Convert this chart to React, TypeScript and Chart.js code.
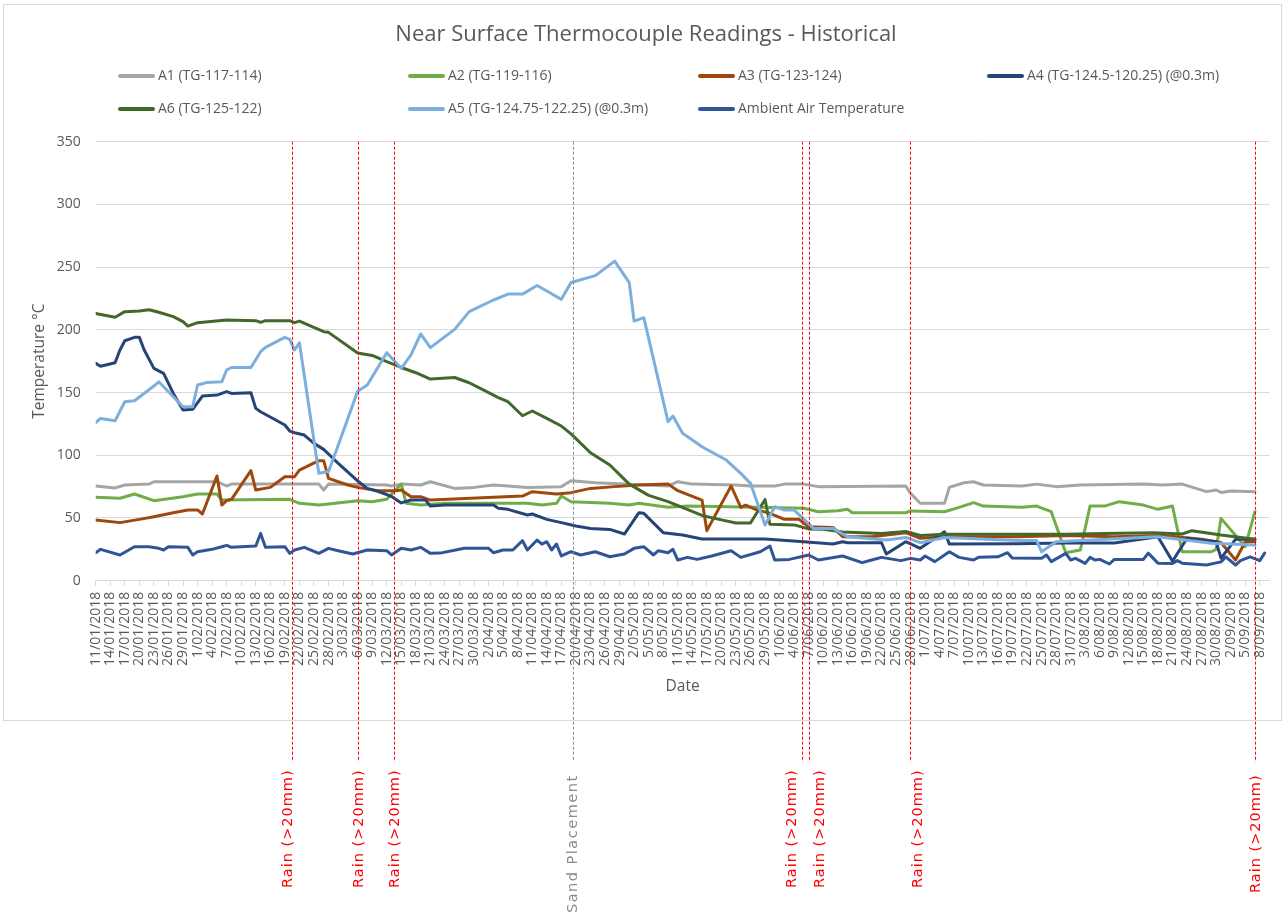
import React, { useEffect, useRef } from "react";
import { Chart, registerables } from "chart.js";

Chart.register(...registerables);

// ---------- canvas / layout constants ----------
const W = 1286;
const H = 915;
const FONT = '"Open Sans", "Noto Sans", sans-serif';
const TEXT_COLOR = "#595959";
const GRID_COLOR = "#d9d9d9";

// ---------- axis data ----------
const START_YEAR = 2018;
const START_MONTH = 0; // January
const START_DAY = 11; // 11/01/2018 = day 0
const AXIS_MAX_DAY = 242;
const TICK_STEP_DAYS = 3;
const TICK_COUNT = 81;
const yMin = 0;
const yMax = 350;
const yStep = 50;

const dayLabel = (d: number) => {
  const dt = new Date(START_YEAR, START_MONTH, START_DAY + d);
  return `${dt.getDate()}/${String(dt.getMonth() + 1).padStart(2, "0")}/${dt.getFullYear()}`;
};
const tickDays = Array.from({ length: TICK_COUNT }, (_, k) => k * TICK_STEP_DAYS);
const xTickLabels = tickDays.map(dayLabel);

// ---------- series (day offset from 11/01/2018, temperature °C) ----------
const seriesLabels = [
  "A1 (TG-117-114)",
  "A2 (TG-119-116)",
  "A3 (TG-123-124)",
  "A4 (TG-124.5-120.25) (@0.3m)",
  "A6 (TG-125-122)",
  "A5 (TG-124.75-122.25) (@0.3m)",
  "Ambient Air Temperature",
];
const seriesColors = ["#A5A5A5", "#70AD47", "#9E480E", "#264478", "#43682B", "#7CAFDD", "#2F5597"];

const a1Days = [0,4,6,11,12,25,27,28,46,47,48,60,61,63,67,69,74,78,82,85,89,96,98,103,118,120,123,132,135,140,142,146,149,167,168,170,175,176,179,181,183,191,194,198,203,216,220,224,229,231,232,234,239];
const a1Vals = [75.5,74,76.3,77,78.9,78.9,75.5,77,77,72.3,77,76.3,75.5,77,76.3,78.9,73.6,74.4,76.3,75.5,74.4,75,79.7,78.1,75.5,78.9,77,76.3,75.5,75.5,77,77,75,75.5,69.6,61.7,61.7,74.4,78.1,78.9,76.3,75.5,77,75,76.3,77,76.3,77,71,72.3,70.4,71.5,71];

const a2Days = [0,5,8,12,18,21,25,26,40,42,46,48,54,57,60,63,64,67,72,89,92,95,96,98,106,110,112,118,122,136,146,149,153,155,156,167,168,175,178,181,183,191,194,197,200,203,205,208,211,216,219,222,224,230,231,232,237,239];
const a2Vals = [66.5,65.7,69.1,63.8,67,69.1,69.1,64.3,64.9,61.7,60.3,61.1,63.8,63,64.9,77.1,61.7,60.3,61.7,61.7,60.3,61.7,67.5,63,61.7,60.3,61.7,58.5,59.5,58.5,57.7,55,55.8,56.9,54.2,54.2,55.6,55,58.5,62.2,59.5,58.5,59.5,55,22.3,24.5,59.5,59.5,63,60.3,56.9,59.5,23.1,23.1,25,49.7,27.1,55];

const a3Days = [0,5,9,12,16,19,21,22,25,26,27,28,32,33,36,39,41,42,46,47,48,52,54,58,62,63,65,67,69,88,90,95,98,102,107,112,118,120,125,126,131,133,134,136,139,142,145,147,152,154,160,167,170,175,190,200,210,220,228,232,235,237,239];
const a3Vals = [48.4,46.3,48.9,51,54.2,56.4,56.4,53.2,83.5,60.3,63.8,64.9,87.7,72.3,74.4,82.9,82.9,88.2,95.7,95.7,81.6,76.3,74.4,71.8,71.8,72.3,67,67,64.3,67.5,71,69.1,70.2,73.6,75,76.3,77.1,71.8,64.3,39.9,75.5,58.5,60.3,56.9,53.7,48.9,48.9,43,42.5,35.1,35.1,38.3,33.8,35.1,35,36,35,36,33,30.5,16.5,31,31];

const a4Days = [0,1,4,5,6,8,9,10,12,14,16,18,20,22,25,27,28,32,33,34,39,40,41,43,45,47,48,50,54,56,58,61,63,65,68,69,72,82,83,85,89,90,93,96,99,102,106,109,112,113,117,121,125,138,146,152,154,155,162,163,167,170,175,176,190,200,210,219,222,225,231,232,235,239];
const a4Vals = [173.3,171,173.8,183.9,191.3,194,194,183.9,169.3,165.3,149.3,136,136.6,147.2,148,150.7,149.3,149.9,137.4,134.7,124.1,119.3,118,116.1,109.5,104.7,101,93.5,79.5,73.6,71.5,67.2,62,64.3,64.3,59.5,60.3,60.3,57.7,56.9,52.4,53.2,48.9,46.3,43.6,41.7,40.9,37.2,54.2,53.7,38.3,36.4,33.2,33.2,31.1,29.2,31.1,30.3,30.3,21.3,31.1,25.8,39,29.2,29.5,30,30,35,15.5,33.8,31,18,33,33];

const a6Days = [0,4,6,9,11,13,16,18,19,21,27,33,34,35,40,41,42,47,48,54,57,60,63,66,69,74,77,80,83,85,88,90,93,96,98,102,106,110,114,118,125,129,132,135,138,139,144,147,150,154,162,167,170,175,190,200,208,218,224,226,232,239];
const a6Vals = [213,210,214.5,215,216,214,210.5,206.5,203,205.7,207.8,207.3,206,207.3,207.3,205.7,207,198.5,198,181.5,179.6,174.6,170,165.8,160.8,162,157.8,152,146,142.7,131.5,135.3,129.4,123.3,117,102,92.2,77,68,63,52,48.5,46,46,64.8,45,44.5,41.3,41,38.8,37.7,39.3,36,37,37,37,37.7,38.3,37.2,39.9,36.4,33];

const a5Days = [0,1,4,6,8,12,13,18,20,21,23,26,27,28,32,34,35,39,40,41,42,46,48,50,54,56,60,63,65,67,69,74,77,82,85,88,91,93,96,98,103,107,110,111,113,118,119,121,125,130,133,135,138,140,142,144,148,152,155,163,167,170,175,190,194,195,198,219,230,239];
const a5Vals = [126,129.4,127.5,142.7,143.5,155.2,158.6,138.7,138.7,156,158.1,158.6,168,170,170,182.6,186,194,192.4,183.9,189.7,85.6,87,108,151,156,181.8,169.3,180,196.7,185.8,200.4,214.5,223.8,228.5,228.5,235.4,231,224.3,237.8,243.2,254.8,237.6,207,209.7,126.8,131.3,117.5,106.8,96.2,85.6,77.6,44.4,59,56.3,56.3,41.7,41.7,35,32.4,34.5,30.3,34.5,32,32,23.1,31.1,35.1,29.8,28.4];

const ambDays = [0,1,5,8,11,13,14,15,19,20,21,24,26,27,28,33,34,35,39,40,41,43,46,48,50,53,56,60,61,63,65,67,69,71,75,76,81,82,84,86,88,89,91,92,93,94,95,96,98,100,103,106,109,111,113,115,116,118,119,120,122,124,127,131,133,137,139,140,143,147,149,154,158,160,162,166,168,170,171,173,176,178,181,182,186,188,189,195,196,197,200,201,202,204,205,206,207,209,210,216,217,219,222,223,224,229,232,233,235,236,238,240,241];
const ambVals = [22.3,25,20.5,27.1,27.1,25.8,24.5,27.1,26.6,20.5,23.1,25,27.1,28.2,26.6,27.6,37.7,26.6,27.1,21.8,24.5,26.6,21.8,25.8,23.9,21.3,24.5,23.9,20.5,25.8,24.5,26.6,21.8,22,25,25.8,25.8,22.3,24.5,24.5,31.9,24.5,32.4,29.2,31.1,24.5,29.2,19.7,23.1,20.5,23.1,19.1,21.3,25.8,27.1,20.5,23.9,22.3,25,16.5,18.6,17,19.7,23.9,18.6,23.1,27.6,16.5,17,20.5,16.5,19.7,14.4,16.5,18.6,16,17.8,16.5,19.7,15.2,23.1,18.6,16.5,18.6,19,22.3,18,17.8,20.5,15.2,21.8,16.5,17.8,13.8,18.6,16.5,17,13.3,17,17,22,14,13.8,16,14,12.5,15,19,12.5,16,19,16,22];

const seriesDays = [a1Days, a2Days, a3Days, a4Days, a6Days, a5Days, ambDays];
const seriesVals = [a1Vals, a2Vals, a3Vals, a4Vals, a6Vals, a5Vals, ambVals];

// ---------- event markers (day offsets) ----------
const rainDays = [40.5, 54, 61.6, 145.7, 147, 167.9, 239.1];
const rainLabel = "Rain (>20mm)";
const sandDay = 98.5;
const sandLabel = "Sand Placement";

// ---------- marker label layout (pixels) ----------
const rainLabelDx = [-4, 1, 1, -10, 11, 8, 1];
const rainLabelBottom = [888, 888, 888, 888, 888, 888, 893];
const sandLabelBottom = 913;
const markerLineBottom = 762;

// ---------- legend layout (pixels) ----------
const legendRowY = [76, 109];
const legendTextX = [158, 448, 738, 1027];

const framePlugin = {
  id: "frame",
  beforeDraw(chart: any) {
    const ctx = chart.ctx;
    ctx.save();
    ctx.fillStyle = "#ffffff";
    ctx.fillRect(0, 0, chart.width, chart.height);
    ctx.strokeStyle = GRID_COLOR;
    ctx.lineWidth = 1;
    ctx.strokeRect(3.5, 4.5, 1278, 716);
    ctx.restore();
  },
};

const legendPlugin = {
  id: "gridLegend",
  afterDraw(chart: any) {
    const ctx = chart.ctx;
    ctx.save();
    ctx.font = `14px ${FONT}`;
    ctx.textBaseline = "middle";
    ctx.textAlign = "left";
    chart.data.datasets.forEach((ds: any, i: number) => {
      const row = i < 4 ? 0 : 1;
      const col = i < 4 ? i : i - 4;
      const y = legendRowY[row];
      const tx = legendTextX[col];
      ctx.strokeStyle = ds.borderColor;
      ctx.lineWidth = 4;
      ctx.lineCap = "round";
      ctx.beginPath();
      ctx.moveTo(tx - 38, y);
      ctx.lineTo(tx - 5, y);
      ctx.stroke();
      ctx.fillStyle = TEXT_COLOR;
      ctx.fillText(ds.label, tx, y);
    });
    ctx.restore();
  },
};

const markerPlugin = {
  id: "markers",
  afterDraw(chart: any) {
    const ctx = chart.ctx;
    const xs = chart.scales.x;
    const top = chart.chartArea.top;
    const drawMarker = (day: number, color: string, text: string, dx: number, bottom: number, spacing: string) => {
      const x = Math.round(xs.getPixelForValue(day)) + 0.5;
      ctx.save();
      ctx.strokeStyle = color;
      ctx.lineWidth = 1;
      ctx.setLineDash([3, 2]);
      ctx.beginPath();
      ctx.moveTo(x, top);
      ctx.lineTo(x, markerLineBottom);
      ctx.stroke();
      ctx.setLineDash([]);
      ctx.translate(x + dx, bottom);
      ctx.rotate(-Math.PI / 2);
      ctx.font = '14.5px "DejaVu Sans", sans-serif';
      (ctx as any).letterSpacing = spacing;
      ctx.fillStyle = color;
      ctx.textAlign = "left";
      ctx.textBaseline = "middle";
      ctx.fillText(text, 0, 0);
      ctx.restore();
    };
    drawMarker(sandDay, "#8c8c8c", sandLabel, 0, sandLabelBottom, "1.5px");
    rainDays.forEach((d, i) => drawMarker(d, "#ff0000", rainLabel, rainLabelDx[i], rainLabelBottom[i], "1px"));
  },
};

export default function App() {
  const ref = useRef<HTMLCanvasElement>(null);
  useEffect(() => {
    if (!ref.current) return;
    const datasets = seriesLabels.map((label, i) => ({
      label,
      data: seriesDays[i].map((d, j) => ({ x: d, y: seriesVals[i][j] })),
      borderColor: seriesColors[i],
      backgroundColor: seriesColors[i],
      borderWidth: 3,
      pointRadius: 0,
      pointHoverRadius: 0,
      tension: 0,
      fill: false,
      borderJoinStyle: "round",
      borderCapStyle: "round",
      order: seriesLabels.length - i,
    }));
    const chart = new Chart(ref.current, {
      type: "line",
      data: { datasets } as any,
      options: {
        animation: false,
        responsive: false,
        devicePixelRatio: 1,
        events: [],
        layout: { padding: { left: 22.5, right: 16.5, top: 0, bottom: 218.7 }, autoPadding: false } as any,
        plugins: {
          legend: { display: false },
          tooltip: { enabled: false },
          title: {
            display: true,
            text: "Near Surface Thermocouple Readings - Historical",
            color: TEXT_COLOR,
            font: { family: FONT, size: 22, weight: "normal" },
            padding: { top: 21.8, bottom: 93.5 },
          },
        },
        scales: {
          x: {
            type: "linear",
            min: 0,
            max: AXIS_MAX_DAY,
            afterBuildTicks: (s: any) => {
              s.ticks = tickDays.map((v) => ({ value: v }));
            },
            afterFit: (s: any) => {
              s.height = 115.6;
            },
            ticks: {
              autoSkip: false,
              maxRotation: 90,
              minRotation: 90,
              padding: 6,
              color: TEXT_COLOR,
              font: { family: FONT, size: 14 },
              callback: (v: any) => xTickLabels[tickDays.indexOf(Number(v))] ?? "",
            },
            grid: { drawOnChartArea: false, drawTicks: true, tickLength: 5, color: GRID_COLOR },
            border: { display: true, color: GRID_COLOR },
            title: {
              display: true,
              text: "Date",
              color: TEXT_COLOR,
              font: { family: FONT, size: 15.5 },
              padding: { top: 0, bottom: 0 },
            },
          },
          y: {
            min: yMin,
            max: yMax,
            afterFit: (s: any) => {
              s.width = 73.2;
            },
            ticks: { stepSize: yStep, padding: 15, color: TEXT_COLOR, font: { family: FONT, size: 14 } },
            grid: { color: GRID_COLOR, drawTicks: false },
            border: { display: false },
            title: {
              display: true,
              text: "Temperature °C",
              color: TEXT_COLOR,
              font: { family: FONT, size: 15.5 },
              padding: { top: 8.2, bottom: 0 },
            },
          },
        },
      } as any,
      plugins: [framePlugin, legendPlugin, markerPlugin],
    });
    return () => chart.destroy();
  }, []);
  return (
    <div style={{ position: "absolute", left: 0, top: 0, width: W, height: H }}>
      <canvas ref={ref} width={W} height={H} style={{ display: "block", width: W, height: H }} />
    </div>
  );
}
